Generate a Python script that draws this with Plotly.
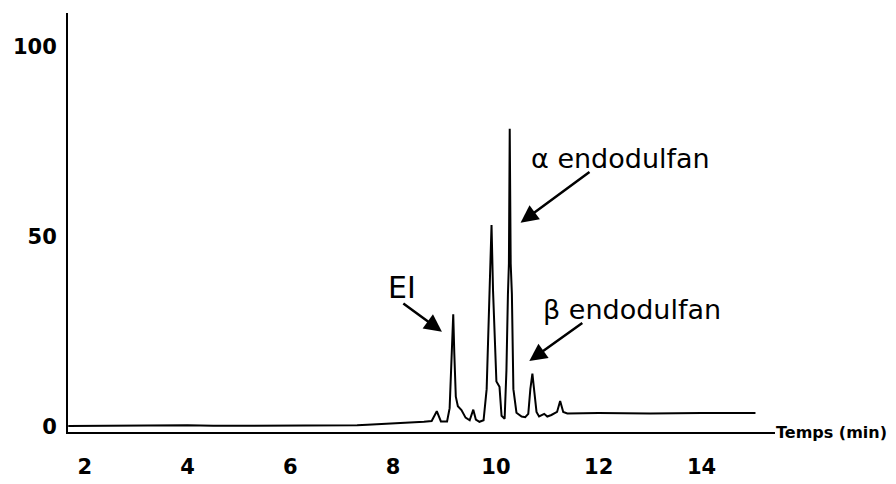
import plotly.graph_objects as go

# Retention time (min) and relative abundance (%)
temps_min = [1.68, 2.5, 3.0, 3.5, 4.0, 4.5, 5.5, 6.5, 7.0, 7.3, 7.5, 8.0, 8.4, 8.6, 8.75,
             8.85, 8.93, 9.05, 9.10, 9.14, 9.17, 9.19, 9.22, 9.26, 9.33, 9.41, 9.49,
             9.56, 9.61, 9.68, 9.76, 9.82, 9.857, 9.886, 9.915, 9.944, 9.973, 10.01,
             10.07, 10.11, 10.17, 10.205, 10.234, 10.253, 10.269, 10.288, 10.311,
             10.34, 10.40, 10.50, 10.57, 10.63, 10.67, 10.71, 10.75, 10.79, 10.84,
             10.94, 11.0, 11.08, 11.19, 11.25, 11.31, 11.39, 12.0, 13.0, 14.0, 15.05]
abondance = [0.3, 0.4, 0.3, 0.35, 0.5, 0.35, 0.4, 0.3, 0.4, 0.5, 0.6, 0.9, 1.2, 1.4, 1.6,
             4.2, 1.5, 1.5, 5.0, 19.6, 29.7, 19.6, 8.0, 5.5, 4.5, 2.5, 1.8,
             4.6, 2.0, 1.4, 1.8, 10.0, 25.0, 36.0, 53.2, 36.0, 27.0, 12.0,
             10.6, 3.0, 2.2, 15.0, 35.0, 43.0, 78.5, 43.0, 35.0,
             10.0, 3.8, 2.8, 2.6, 3.5, 10.0, 14.1, 9.0, 4.0, 2.8,
             3.5, 2.8, 3.2, 4.0, 6.9, 4.0, 3.6, 3.7, 3.6, 3.7, 3.7]

x_ticks = [2, 4, 6, 8, 10, 12, 14]
y_ticks = [0, 50, 100]

fig = go.Figure()
fig.add_trace(go.Scatter(x=temps_min, y=abondance, mode="lines",
                         line=dict(color="black", width=2), showlegend=False,
                         hoverinfo="skip"))

tick_font = dict(family="DejaVu Sans", size=21, color="black", weight="bold")
label_font = dict(family="DejaVu Sans", size=27, color="black")

# the page body keeps its default 8px margin, so the figure is 8px smaller
fig.update_layout(
    width=888, height=476,
    margin=dict(l=56, r=121, t=5, b=41),
    paper_bgcolor="white", plot_bgcolor="white",
    xaxis=dict(range=[1.675, 15.43], tickvals=x_ticks,
               ticktext=[str(v) for v in x_ticks], showgrid=False, zeroline=False,
               showline=True, linecolor="black", linewidth=2, ticks="",
               tickfont=tick_font, ticklabelstandoff=15),
    yaxis=dict(range=[-1.28, 108.97], tickvals=y_ticks,
               ticktext=[str(v) for v in y_ticks], showgrid=False, zeroline=False,
               showline=True, linecolor="black", linewidth=2, ticks="",
               tickfont=tick_font, ticklabelstandoff=5),
)

annotations = [
    # axis title at the end of the x axis
    dict(text="Temps (min)", xref="paper", yref="paper", x=1.0, y=0.0,
         xanchor="left", yanchor="middle", showarrow=False, borderpad=0,
         font=dict(family="DejaVu Sans", size=16, color="black", weight="bold")),
    # labels
    dict(text="α endodulfan", x=10.65, y=70.8, xanchor="left", yanchor="middle",
         showarrow=False, font=label_font),
    dict(text="β endodulfan", x=10.88, y=31.0, xanchor="left", yanchor="middle",
         showarrow=False, font=label_font),
    dict(text="EI", x=8.17, y=36.7, xanchor="center", yanchor="middle",
         showarrow=False, font=dict(family="DejaVu Sans", size=30, color="black")),
]
arrows = [
    (10.48, 53.8, 11.85, 67.4),   # alpha
    (10.65, 17.4, 11.71, 27.7),   # beta
    (8.95, 25.1, 8.17, 32.8),     # EI
]
for (xt, yt, xa, ya) in arrows:
    annotations.append(dict(text="", x=xt, y=yt, ax=xa, ay=ya, axref="x", ayref="y",
                            showarrow=True, arrowhead=2, arrowsize=1.4,
                            arrowwidth=2.5, arrowcolor="black", standoff=0))
fig.update_layout(annotations=annotations)

fig.write_html("out.html")
